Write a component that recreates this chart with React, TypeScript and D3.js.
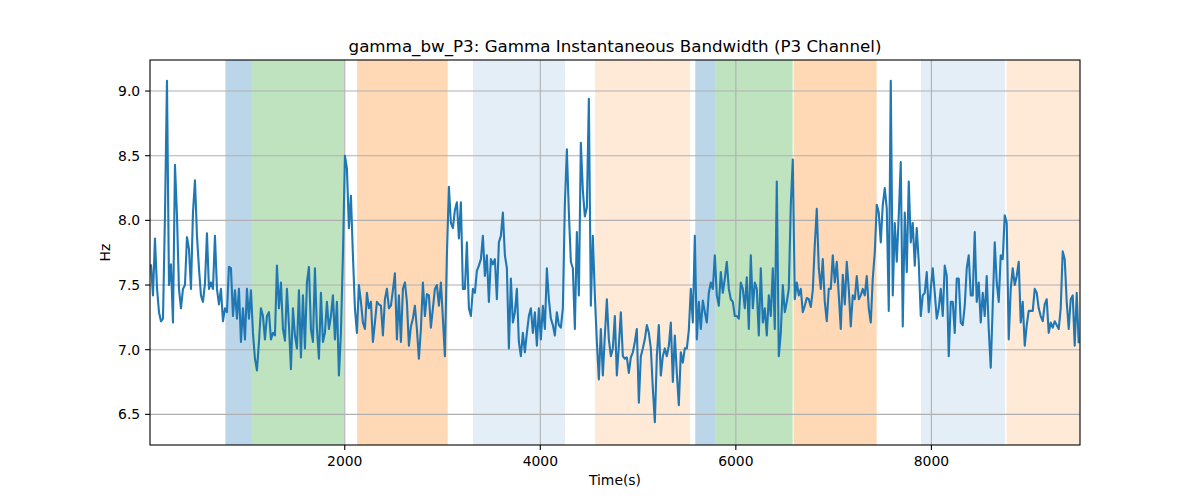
import React from "react";
import * as d3 from "d3";

// sampled gamma bandwidth values (Hz), regular time step
const tStart = 18;
const tStep = 20.45;
const bandwidth = [
  7.66, 7.42, 7.86, 7.48, 7.29, 7.22, 7.24, 8.04, 9.08, 7.5,
  7.66, 7.21, 8.43, 8.04, 7.47, 7.32, 7.47, 7.5, 7.87, 7.78,
  7.47, 8.06, 8.31, 7.88, 7.63, 7.42, 7.37, 7.51, 7.9, 7.47,
  7.52, 7.47, 7.88, 7.47, 7.35, 7.47, 7.22, 7.32, 7.29, 7.64,
  7.63, 7.26, 7.46, 7.24, 7.47, 7.06, 7.32, 7.08, 7.47, 7.24,
  7.46, 7.13, 6.93, 6.84, 7.06, 7.32, 7.26, 7.08, 7.26, 7.29,

  7.08, 7.13, 7.11, 7.65, 7.32, 7.52, 7.16, 7.07, 7.47, 7.19,
  6.85, 7.32, 7.11, 7.01, 7.46, 6.94, 7.42, 7.01, 7.52, 7.64,
  7.16, 7.06, 7.63, 7.16, 6.93, 7.44, 7.06, 7.13, 7.37, 7.16,
  7.26, 7.42, 7.08, 7.37, 6.8, 7.13, 7.73, 8.5, 8.4, 7.94,
  8.19, 7.73, 7.32, 7.13, 7.5, 7.37, 7.21, 7.16, 7.44, 7.32,
  7.37, 7.06, 7.21, 7.37, 7.35, 7.34, 7.11, 7.39, 7.47, 7.32,

  7.34, 7.46, 7.59, 7.08, 7.42, 7.06, 7.47, 7.52, 7.37, 7.03,
  7.18, 7.24, 7.34, 7.16, 6.93, 7.16, 7.52, 7.26, 7.43, 7.42,
  7.17, 7.32, 7.47, 7.5, 7.34, 7.52, 7.24, 6.95, 7.73, 8.26,
  7.98, 7.94, 8.08, 8.14, 7.86, 8.14, 7.47, 7.47, 7.83, 7.32,
  7.26, 7.47, 7.44, 7.61, 7.65, 7.7, 7.88, 7.57, 7.73, 7.37,
  7.7, 7.66, 7.7, 7.39, 7.83, 7.88, 8.06, 7.73, 7.63, 7.01,

  7.55, 7.21, 7.29, 7.47, 7.06, 6.95, 7.13, 6.98, 7.13, 7.26,
  7.32, 7.13, 7.29, 7.03, 7.32, 7.08, 7.34, 7.16, 7.63, 7.39,
  7.24, 7.19, 7.11, 7.29, 7.19, 7.17, 7.32, 8.12, 8.55, 8.06,
  7.68, 7.63, 7.16, 7.91, 7.42, 8.6, 8.23, 8.03, 8.1, 8.94,
  7.34, 7.88, 7.42, 7.06, 6.77, 7.16, 6.8, 7.11, 7.39, 7.08,
  6.95, 7.01, 7.26, 6.8, 7.03, 7.29, 6.95, 6.93, 6.94, 6.82,

  6.94, 6.98, 7.06, 7.16, 6.59, 6.95, 7.01, 7.08, 7.19, 7.13,
  7.01, 6.7, 6.44, 6.95, 7.19, 6.8, 6.95, 7.01, 6.95, 7.03,
  7.21, 6.75, 7.11, 6.82, 6.57, 6.98, 6.9, 7.01, 7.01, 7.15,
  7.47, 7.21, 7.88, 7.08, 7.37, 7.16, 7.38, 7.29, 7.21, 7.44,
  7.52, 7.47, 7.73, 7.42, 7.34, 7.6, 7.44, 7.55, 7.68, 7.47,
  7.39, 7.37, 7.26, 7.26, 7.24, 7.52, 7.47, 7.32, 7.56, 7.16,

  7.73, 7.32, 7.52, 7.47, 7.11, 7.63, 7.21, 7.32, 7.11, 7.42,
  7.26, 7.63, 7.16, 8.3, 6.95, 7.13, 7.5, 7.29, 7.37, 7.47,
  8.12, 8.47, 7.39, 7.52, 7.42, 7.47, 7.29, 7.34, 7.4, 7.39,
  7.33, 7.46, 7.81, 8.09, 7.63, 7.47, 7.7, 7.37, 7.22, 7.47,
  7.47, 7.73, 7.52, 7.68, 7.42, 7.16, 7.58, 7.35, 7.68, 7.47,
  7.18, 7.42, 7.39, 7.57, 7.39, 7.42, 7.47, 7.42, 7.57, 7.32,

  7.21, 7.55, 7.75, 8.12, 8.06, 7.83, 8.12, 8.25, 8.09, 7.3,
  9.08, 7.42, 7.98, 7.68, 8.04, 8.45, 7.18, 8.06, 7.6, 8.3,
  7.83, 7.98, 7.65, 7.94, 7.68, 7.26, 7.42, 7.44, 7.6, 7.29,
  7.47, 7.63, 7.44, 7.24, 7.32, 7.47, 7.26, 7.65, 7.57, 6.95,
  7.37, 7.37, 7.13, 7.55, 7.55, 7.21, 7.19, 7.34, 7.63, 7.73,
  7.42, 7.42, 7.91, 7.37, 7.52, 7.21, 7.44, 7.26, 7.57, 7.16,

  6.86, 7.34, 7.83, 7.52, 7.37, 7.73, 7.7, 8.04, 7.98, 7.08,
  7.47, 7.63, 7.5, 7.57, 7.68, 7.21, 7.37, 7.03, 7.19, 7.3,
  7.3, 7.3, 7.47, 7.44, 7.32, 7.26, 7.22, 7.35, 7.39, 7.13,
  7.21, 7.17, 7.22, 7.19, 7.16, 7.32, 7.76, 7.7, 7.37, 7.16,
  7.39, 7.42, 7.03, 7.44, 7.05,
];

// shaded state spans (time units)
const spanStart = [779, 1049, 2126, 3312, 4560, 5585, 5789, 6591, 7893, 8769];
const spanEnd = [1049, 1993, 3053, 4253, 5532, 5789, 6581, 7440, 8752, 9520];
const spanKind = ["blue", "green", "orange", "blueLight", "orangeLight", "blue", "green", "orange", "blueLight", "orangeLight"];

const xTicks = [2000, 4000, 6000, 8000];
const yTicks = [6.5, 7.0, 7.5, 8.0, 8.5, 9.0];

const spanStyle: Record<string, { fill: string; opacity: number }> = {
  blue: { fill: "#1f77b4", opacity: 0.3 },
  green: { fill: "#2ca02c", opacity: 0.3 },
  orange: { fill: "#ff7f0e", opacity: 0.3 },
  blueLight: { fill: "#1f77b4", opacity: 0.12 },
  orangeLight: { fill: "#ff7f0e", opacity: 0.16 },
};

export default function App() {
  const width = 1200;
  const height = 500;
  const marginLeft = 150;
  const marginRight = 120;
  const marginTop = 60;
  const marginBottom = 55;
  const font = "DejaVu Sans, sans-serif";

  const x = d3
    .scaleLinear()
    .domain([8, 9520])
    .range([marginLeft, width - marginRight]);
  const y = d3
    .scaleLinear()
    .domain([6.263, 9.24])
    .range([height - marginBottom, marginTop]);

  const points = bandwidth.map((v, i) => [tStart + i * tStep, v] as [number, number]);
  const line = d3
    .line<[number, number]>()
    .x((d) => x(d[0]))
    .y((d) => y(d[1]));

  const [x0, x1] = x.range();
  const [yb, yt] = y.range();

  return (
    <svg
      width={width}
      height={height}
      style={{ position: "absolute", left: 0, top: 0, background: "#fff" }}
      fontFamily={font}
    >
      <defs>
        <clipPath id="plot">
          <rect x={x0} y={yt} width={x1 - x0} height={yb - yt} />
        </clipPath>
      </defs>

      {/* state spans */}
      <g clipPath="url(#plot)">
        {spanStart.map((s, i) => (
          <rect
            key={i}
            x={x(s)}
            y={yt}
            width={x(spanEnd[i]) - x(s)}
            height={yb - yt}
            fill={spanStyle[spanKind[i]].fill}
            fillOpacity={spanStyle[spanKind[i]].opacity}
          />
        ))}
      </g>

      {/* grid */}
      <g stroke="#b0b0b0" strokeWidth={1.1}>
        {xTicks.map((t) => (
          <line key={t} x1={x(t)} x2={x(t)} y1={yt} y2={yb} />
        ))}
        {yTicks.map((t) => (
          <line key={t} x1={x0} x2={x1} y1={y(t)} y2={y(t)} />
        ))}
      </g>

      <path
        d={line(points) ?? ""}
        fill="none"
        stroke="#1f77b4"
        strokeWidth={2.1}
        strokeLinejoin="round"
        clipPath="url(#plot)"
      />

      {/* frame */}
      <rect x={x0} y={yt} width={x1 - x0} height={yb - yt} fill="none" stroke="#000" strokeWidth={1.1} />

      {/* x axis */}
      <g>
        {xTicks.map((t) => (
          <g key={t} transform={`translate(${x(t)},${yb})`}>
            <line y2={4.9} stroke="#000" strokeWidth={1.1} />
            <text y={21} textAnchor="middle" fontSize={13.9} fill="#000">
              {t}
            </text>
          </g>
        ))}
        <text x={(x0 + x1) / 2} y={485} textAnchor="middle" fontSize={13.9} fill="#000">
          Time(s)
        </text>
      </g>

      {/* y axis */}
      <g>
        {yTicks.map((t) => (
          <g key={t} transform={`translate(${x0},${y(t)})`}>
            <line x2={-4.9} stroke="#000" strokeWidth={1.1} />
            <text x={-9.8} dy="0.35em" textAnchor="end" fontSize={13.9} fill="#000">
              {d3.format(".1f")(t)}
            </text>
          </g>
        ))}
        <text
          transform={`translate(110,${(yt + yb) / 2}) rotate(-90)`}
          textAnchor="middle"
          fontSize={13.9}
          fill="#000"
        >
          Hz
        </text>
      </g>

      <text x={(x0 + x1) / 2} y={51.7} textAnchor="middle" fontSize={16.7} fill="#000">
        gamma_bw_P3: Gamma Instantaneous Bandwidth (P3 Channel)
      </text>
    </svg>
  );
}
